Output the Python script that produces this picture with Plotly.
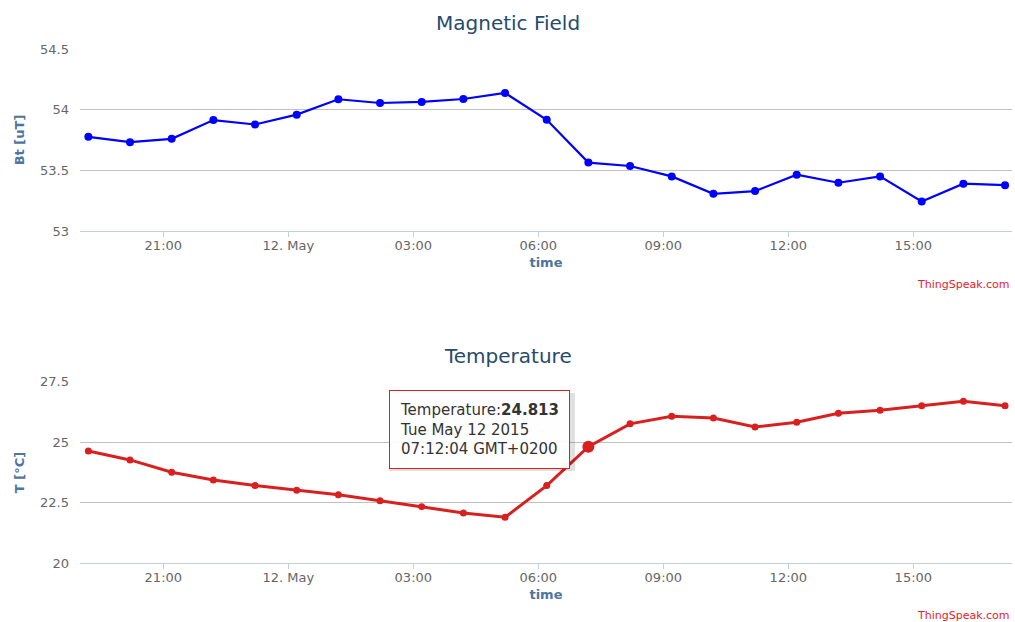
import plotly.graph_objects as go

times = [
    "2015-05-11 19:12:04", "2015-05-11 20:12:04", "2015-05-11 21:12:04",
    "2015-05-11 22:12:04", "2015-05-11 23:12:04", "2015-05-12 00:12:04",
    "2015-05-12 01:12:04", "2015-05-12 02:12:04", "2015-05-12 03:12:04",
    "2015-05-12 04:12:04", "2015-05-12 05:12:04", "2015-05-12 06:12:04",
    "2015-05-12 07:12:04", "2015-05-12 08:12:04", "2015-05-12 09:12:04",
    "2015-05-12 10:12:04", "2015-05-12 11:12:04", "2015-05-12 12:12:04",
    "2015-05-12 13:12:04", "2015-05-12 14:12:04", "2015-05-12 15:12:04",
    "2015-05-12 16:12:04", "2015-05-12 17:12:04",
]

bt_values = [53.776, 53.732, 53.760, 53.914, 53.878, 53.959, 54.086, 54.055,
             54.064, 54.088, 54.138, 53.917, 53.564, 53.536, 53.450, 53.307,
             53.329, 53.464, 53.398, 53.450, 53.243, 53.390, 53.378]

temp_values = [24.64, 24.27, 23.76, 23.44, 23.21, 23.02, 22.83, 22.58, 22.34,
               22.08, 21.90, 23.21, 24.813, 25.76, 26.07, 26.00, 25.63, 25.83,
               26.20, 26.32, 26.51, 26.69, 26.51]

x_tick_vals = ["2015-05-11 21:00", "2015-05-12 00:00", "2015-05-12 03:00",
               "2015-05-12 06:00", "2015-05-12 09:00", "2015-05-12 12:00",
               "2015-05-12 15:00"]
x_tick_text = ["21:00", "12. May", "03:00", "06:00", "09:00", "12:00", "15:00"]

bt_ticks = [53, 53.5, 54, 54.5]
bt_tick_text = ["53", "53.5", "54", "54.5"]
temp_ticks = [20, 22.5, 25, 27.5]
temp_tick_text = ["20", "22.5", "25", "27.5"]

hover_index = 12
x_range = ["2015-05-11 19:00", "2015-05-12 17:22"]

FONT = "DejaVu Sans"
BLUE = "#0000ff"
RED = "#d92020"

fig = go.Figure()

fig.add_trace(go.Scatter(
    x=times, y=bt_values, mode="lines+markers", xaxis="x", yaxis="y",
    line=dict(color=BLUE, width=2.2), marker=dict(color=BLUE, size=8),
    name="Bt", showlegend=False))

fig.add_trace(go.Scatter(
    x=times, y=temp_values, mode="lines+markers", xaxis="x2", yaxis="y2",
    line=dict(color=RED, width=3), marker=dict(color=RED, size=7),
    name="Temperature", showlegend=False))

fig.add_trace(go.Scatter(
    x=[times[hover_index]], y=[temp_values[hover_index]], mode="markers",
    xaxis="x2", yaxis="y2", marker=dict(color=RED, size=12),
    showlegend=False, hoverinfo="skip"))

xcommon = dict(
    type="date", range=x_range, tickvals=x_tick_vals, ticktext=x_tick_text,
    showgrid=False, showline=True, linecolor="#C0D0E0", linewidth=1,
    ticks="outside", ticklen=5, tickcolor="#C0D0E0", ticklabelstandoff=-3,
    tickfont=dict(family=FONT, size=13, color="#666666"),
    title=dict(text="<b>time</b>", font=dict(family=FONT, size=13, color="#4d759e"),
               standoff=6),
    domain=[0.0788, 0.997], zeroline=False,
)
ycommon = dict(
    showgrid=True, gridcolor="#C0C0C0", gridwidth=1, zeroline=False,
    showline=False, ticks="", ticklabelstandoff=10,
    tickfont=dict(family=FONT, size=13, color="#666666"),
)

fig.update_layout(
    width=1015, height=622,
    margin=dict(l=0, r=0, t=0, b=0, autoexpand=False),
    paper_bgcolor="white", plot_bgcolor="white",
    xaxis=dict(**xcommon, anchor="y"),
    xaxis2=dict(**xcommon, anchor="y2"),
    yaxis=dict(**ycommon, range=[53, 54.5], tickvals=bt_ticks, ticktext=bt_tick_text,
               domain=[0.6286, 0.9212], anchor="x",
               title=dict(text="<b>Bt [uT]</b>",
                          font=dict(family=FONT, size=13, color="#4d759e"), standoff=12)),
    yaxis2=dict(**ycommon, range=[20, 27.5], tickvals=temp_ticks, ticktext=temp_tick_text,
                domain=[0.0944, 0.3863], anchor="x2",
                title=dict(text="<b>T [°C]</b>",
                           font=dict(family=FONT, size=13, color="#4d759e"), standoff=12)),
    showlegend=False,
)

# soft shadow behind the tooltip box
fig.add_shape(type="rect", xref="paper", yref="paper", layer="above",
              x0=389 / 1015, x1=575 / 1015, y0=1 - 471 / 622, y1=1 - 393 / 622,
              line=dict(width=0), fillcolor="rgba(0,0,0,0.12)")

annotations = [
    dict(text="Magnetic Field", x=0.5, y=1 - 23 / 622, xref="paper", yref="paper",
         showarrow=False, font=dict(family=FONT, size=20, color="#274b6d"),
         xanchor="center", yanchor="middle"),
    dict(text="Temperature", x=0.5, y=1 - 356 / 622, xref="paper", yref="paper",
         showarrow=False, font=dict(family=FONT, size=20, color="#274b6d"),
         xanchor="center", yanchor="middle"),
    dict(text="ThingSpeak.com", x=1012 / 1015, y=1 - 284 / 622, xref="paper", yref="paper",
         showarrow=False, font=dict(family=FONT, size=11, color="#e8202a"),
         xanchor="right", yanchor="middle"),
    dict(text="ThingSpeak.com", x=1012 / 1015, y=1 - 615 / 622, xref="paper", yref="paper",
         showarrow=False, font=dict(family=FONT, size=11, color="#e8202a"),
         xanchor="right", yanchor="middle"),
    dict(text=(f"Temperature:<b>{temp_values[hover_index]:.3f}</b><br>"
               "Tue May 12 2015<br>07:12:04 GMT+0200"),
         x=479 / 1015, y=1 - 429 / 622, xref="paper", yref="paper",
         showarrow=False, align="left", xanchor="center", yanchor="middle",
         font=dict(family=FONT, size=15, color="#333333"),
         bgcolor="rgba(255,255,255,0.95)", bordercolor=RED, borderwidth=1, borderpad=10),
]
fig.update_layout(annotations=annotations)

fig.write_html("out.html", config={"displayModeBar": False},
               post_script="document.body.style.margin='0';")
